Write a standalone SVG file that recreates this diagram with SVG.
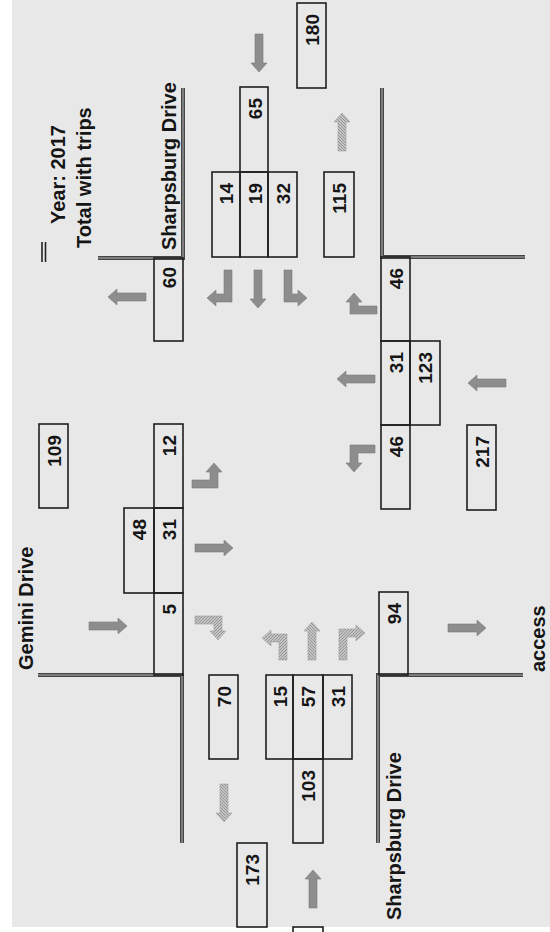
<svg xmlns="http://www.w3.org/2000/svg" width="550" height="932" viewBox="0 0 550 932">
<style>
.bx{fill:none;stroke:#1e1e1e;stroke-width:1.6}
.t{font-family:"Liberation Sans",Arial,sans-serif;font-weight:bold;font-size:19px;fill:#151515}
.l{font-size:20px}
.n{text-anchor:end}
.rd{fill:none;stroke:#454545;stroke-width:4}
.rdi{fill:none;stroke:#b5b5b5;stroke-width:1}
.sol{fill:#8d8d8d;stroke:#7a7a7a;stroke-width:0.6}
.hat{fill:url(#hp);stroke:#a0a0a0;stroke-width:0.6}
</style>
<defs>
<pattern id="hp" width="3" height="3" patternUnits="userSpaceOnUse">
<rect width="3" height="3" fill="#c4c4c4"/>
<path d="M0,3 L3,0" stroke="#8e8e8e" stroke-width="0.9"/>
</pattern>
<path id="sa" d="M0,-4 H29 V-8 L38,0 L29,8 V4 H0 Z"/>
</defs>
<rect width="550" height="932" fill="#ffffff"/>
<rect x="12" y="0" width="538" height="927" fill="#e8e8e8"/>

<g id="legend">
<line x1="42" y1="242" x2="42" y2="262" stroke="#222" stroke-width="1.6"/>
<line x1="45.5" y1="242" x2="45.5" y2="262" stroke="#222" stroke-width="1.6"/>
<text class="t l" transform="translate(65,224) rotate(-90)">Year: 2017</text>
<text class="t l" transform="translate(91,248) rotate(-90)">Total with trips</text>
</g>

<g id="roads">
<polyline class="rd" points="98,258 183,258 183,88"/>
<polyline class="rdi" points="98,258 183,258 183,88"/>
<polyline class="rd" points="382,88 382,257 525,257"/>
<polyline class="rdi" points="382,88 382,257 525,257"/>
<polyline class="rd" points="38,675 182,675 182,843"/>
<polyline class="rdi" points="38,675 182,675 182,843"/>
<polyline class="rd" points="378,843 378,675 523,675"/>
<polyline class="rdi" points="378,843 378,675 523,675"/>
</g>

<g id="labels">
<text class="t l" transform="translate(176,250) rotate(-90)">Sharpsburg Drive</text>
<text class="t l" transform="translate(33,670) rotate(-90)">Gemini Drive</text>
<text class="t l" transform="translate(401,920) rotate(-90)">Sharpsburg Drive</text>
<text class="t l" transform="translate(545,672) rotate(-90)">access</text>
</g>

<g id="north-approach">
<rect class="bx" x="212" y="172" width="28" height="85"/>
<rect class="bx" x="240" y="172" width="28" height="85"/>
<rect class="bx" x="268" y="172" width="29" height="85"/>
<rect class="bx" x="240" y="87" width="28" height="85"/>
<text class="t n" transform="translate(233,183) rotate(-90)">14</text>
<text class="t n" transform="translate(261.5,183) rotate(-90)">19</text>
<text class="t n" transform="translate(289.5,183) rotate(-90)">32</text>
<text class="t n" transform="translate(261.5,98) rotate(-90)">65</text>
</g>
<g id="box-180"><rect class="bx" x="297" y="3" width="29" height="85"/><text class="t n" transform="translate(318.5,14) rotate(-90)">180</text></g>
<g id="box-115"><rect class="bx" x="324" y="172" width="30" height="85"/><text class="t n" transform="translate(346,183) rotate(-90)">115</text></g>
<g id="box-60"><rect class="bx" x="154" y="258" width="29" height="83"/><text class="t n" transform="translate(175.5,267) rotate(-90)">60</text></g>

<g id="east-approach">
<rect class="bx" x="381" y="257" width="29" height="84"/>
<rect class="bx" x="381" y="341" width="29" height="84"/>
<rect class="bx" x="381" y="425" width="29" height="84"/>
<rect class="bx" x="410" y="341" width="30" height="84"/>
<text class="t n" transform="translate(402.5,268) rotate(-90)">46</text>
<text class="t n" transform="translate(402.5,352) rotate(-90)">31</text>
<text class="t n" transform="translate(402.5,436) rotate(-90)">46</text>
<text class="t n" transform="translate(432,352) rotate(-90)">123</text>
</g>
<g id="box-217"><rect class="bx" x="467" y="425" width="29" height="85"/><text class="t n" transform="translate(488.5,436) rotate(-90)">217</text></g>

<g id="box-109"><rect class="bx" x="39" y="424" width="29" height="84"/><text class="t n" transform="translate(60.5,435) rotate(-90)">109</text></g>
<g id="west-approach">
<rect class="bx" x="154" y="424" width="29" height="84"/>
<rect class="bx" x="154" y="508" width="29" height="85"/>
<rect class="bx" x="124" y="508" width="30" height="85"/>
<rect class="bx" x="154" y="593" width="29" height="82"/>
<text class="t n" transform="translate(175.5,435) rotate(-90)">12</text>
<text class="t n" transform="translate(175.5,519) rotate(-90)">31</text>
<text class="t n" transform="translate(146,519) rotate(-90)">48</text>
<text class="t n" transform="translate(175.5,604) rotate(-90)">5</text>
</g>

<g id="box-70"><rect class="bx" x="209" y="675" width="29" height="84"/><text class="t n" transform="translate(230.5,686) rotate(-90)">70</text></g>
<g id="south-approach">
<rect class="bx" x="266" y="675" width="27" height="84"/>
<rect class="bx" x="293" y="675" width="30" height="84"/>
<rect class="bx" x="323" y="675" width="29" height="84"/>
<rect class="bx" x="293" y="759" width="30" height="84"/>
<text class="t n" transform="translate(287,686) rotate(-90)">15</text>
<text class="t n" transform="translate(315,686) rotate(-90)">57</text>
<text class="t n" transform="translate(344.5,686) rotate(-90)">31</text>
<text class="t n" transform="translate(315,770) rotate(-90)">103</text>
</g>
<g id="box-173"><rect class="bx" x="237" y="843" width="30" height="84"/><text class="t n" transform="translate(259,854) rotate(-90)">173</text></g>
<g id="box-bottom"><rect class="bx" x="293" y="927" width="30" height="84"/></g>
<g id="box-94"><rect class="bx" x="379" y="592" width="29" height="83"/><text class="t n" transform="translate(400.5,603) rotate(-90)">94</text></g>

<g id="connectors">
<use href="#sa" class="sol" transform="translate(259,34) rotate(90)"/>
<use href="#sa" class="hat" transform="translate(342,151) rotate(-90)"/>
<use href="#sa" class="sol" transform="translate(146,297) rotate(180)"/>
<use href="#sa" class="sol" transform="translate(258,270) rotate(90)"/>
<path class="sol" d="M224,270 H232 V302 H216 V306 L207,298 L216,290 V294 H224 Z"/>
<path class="sol" d="M284,270 H292 V294 H298 V290 L307,298 L298,306 V302 H284 Z"/>
<path class="sol" d="M377,306 V314 H350 V302 H346 L354,293 L362,302 H358 V306 Z"/>
<use href="#sa" class="sol" transform="translate(375,379) rotate(180)"/>
<use href="#sa" class="sol" transform="translate(506,383) rotate(180)"/>
<path class="sol" d="M375,445 V453 H358 V463 H362 L354,472 L346,463 H350 V445 Z"/>
<path class="sol" d="M192,480 H210 V472 H206 L214,463 L222,472 H218 V488 H192 Z"/>
<use href="#sa" class="sol" transform="translate(195,548)"/>
<use href="#sa" class="sol" transform="translate(89,626)"/>
<path class="hat" d="M195,616 H222 V631 H226 L218,640 L210,631 H214 V624 H195 Z"/>
<path class="hat" d="M287,634 V660 H279 V642 H271 V646 L262,638 L271,630 V634 Z"/>
<use href="#sa" class="hat" transform="translate(312,660) rotate(-90)"/>
<path class="hat" d="M339,660 V629 H356 V625 L365,633 L356,641 V637 H347 V660 Z"/>
<use href="#sa" class="hat" transform="translate(224,784) rotate(90)"/>
<use href="#sa" class="sol" transform="translate(313,908) rotate(-90)"/>
<use href="#sa" class="sol" transform="translate(448,628)"/>
</g>
</svg>
